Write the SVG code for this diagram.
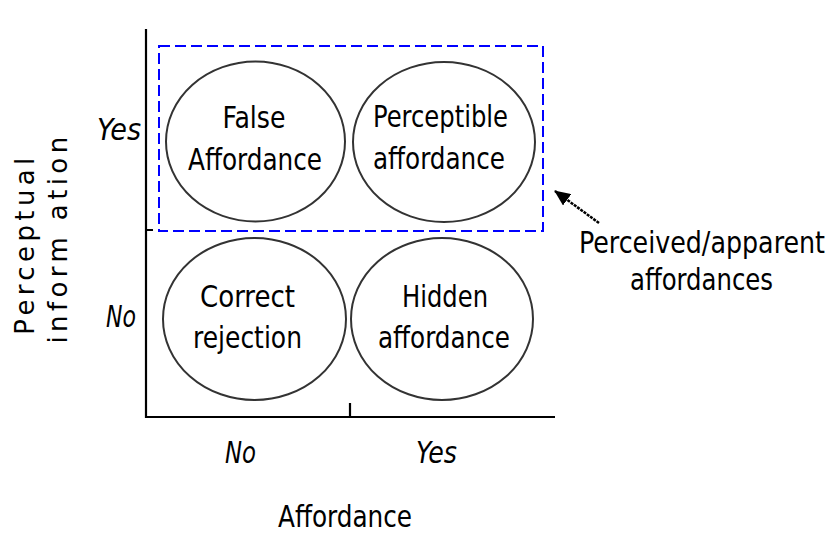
<svg xmlns="http://www.w3.org/2000/svg" width="840" height="552" viewBox="0 0 840 552">
<style>
text{font-family:"DejaVu Sans Condensed","DejaVu Sans",sans-serif;fill:#000}
.n{font-size:30px;text-anchor:middle}
.t{font-size:30px;text-anchor:middle;font-style:italic}
.y{font-family:"DejaVu Sans",sans-serif;font-size:26px;letter-spacing:4.4px;text-anchor:middle}
.e{fill:#fff;stroke:#333;stroke-width:2}
.ax{stroke:#000;stroke-width:2.2;fill:none}
</style>
<defs>
<marker id="ah" viewBox="0 0 16 14" refX="15" refY="7" markerWidth="16" markerHeight="14" orient="auto" markerUnits="userSpaceOnUse">
<path d="M0,0L16,7L0,14z" fill="#000"/>
</marker>
</defs>
<rect width="840" height="552" fill="#fff"/>
<g id="axes">
<path class="ax" d="M146,29V417H555"/>
<path class="ax" d="M146,230H153M350,417V403"/>
</g>
<g id="group-box">
<rect x="159" y="46" width="384" height="185" fill="none" stroke="#0000ff" stroke-width="2" stroke-dasharray="11,5"/>
</g>
<g id="false-affordance">
<ellipse class="e" cx="255.5" cy="141.5" rx="89.5" ry="80"/>
<text class="n" x="254" y="128" textLength="63" lengthAdjust="spacingAndGlyphs">False</text>
<text class="n" x="255" y="170" textLength="134" lengthAdjust="spacingAndGlyphs">Affordance</text>
</g>
<g id="perceptible-affordance">
<ellipse class="e" cx="444" cy="142" rx="91" ry="80"/>
<text class="n" x="440.5" y="127" textLength="135" lengthAdjust="spacingAndGlyphs">Perceptible</text>
<text class="n" x="439" y="169" textLength="132" lengthAdjust="spacingAndGlyphs">affordance</text>
</g>
<g id="correct-rejection">
<ellipse class="e" cx="254.5" cy="319" rx="91.5" ry="81"/>
<text class="n" x="247.5" y="307" textLength="95" lengthAdjust="spacingAndGlyphs">Correct</text>
<text class="n" x="247.5" y="348" textLength="109" lengthAdjust="spacingAndGlyphs">rejection</text>
</g>
<g id="hidden-affordance">
<ellipse class="e" cx="442" cy="319" rx="91" ry="81"/>
<text class="n" x="445" y="307" textLength="86" lengthAdjust="spacingAndGlyphs">Hidden</text>
<text class="n" x="444" y="348" textLength="132" lengthAdjust="spacingAndGlyphs">affordance</text>
</g>
<g id="labels">
<text class="t" x="119" y="140" textLength="44" lengthAdjust="spacingAndGlyphs">Yes</text>
<text class="t" x="121" y="327" textLength="30" lengthAdjust="spacingAndGlyphs">No</text>
<text class="t" x="240.5" y="463" textLength="31" lengthAdjust="spacingAndGlyphs">No</text>
<text class="t" x="436.5" y="463" textLength="41" lengthAdjust="spacingAndGlyphs">Yes</text>
<text class="n" x="345" y="527" textLength="134" lengthAdjust="spacingAndGlyphs">Affordance</text>
<text class="y" transform="translate(34,244) rotate(-90)">Perceptual</text>
<text class="y" transform="translate(67,238) rotate(-90)">inform ation</text>
</g>
<g id="annotation">
<text class="n" x="702" y="253" textLength="246" lengthAdjust="spacingAndGlyphs">Perceived/apparent</text>
<text class="n" x="701.5" y="290" textLength="143" lengthAdjust="spacingAndGlyphs">affordances</text>
</g>
<g id="connectors">
<line x1="599" y1="223" x2="555" y2="191" stroke="#000" stroke-width="2.5" stroke-dasharray="3,1" marker-end="url(#ah)"/>
</g>
</svg>
